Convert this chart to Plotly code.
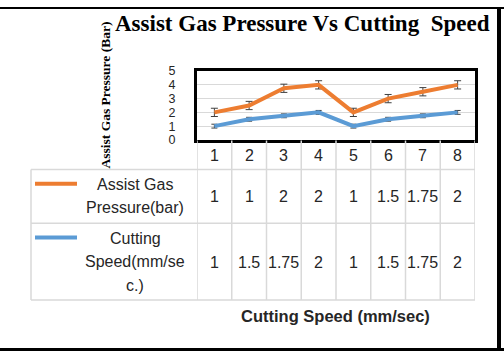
import plotly.graph_objects as go

# ---- data ----
categories = [1, 2, 3, 4, 5, 6, 7, 8]
assist_gas_pressure = [1, 1, 2, 2, 1, 1.5, 1.75, 2]
cutting_speed = [1, 1.5, 1.75, 2, 1, 1.5, 1.75, 2]
y_ticks = [0, 1, 2, 3, 4, 5]
orange_err = 0.3   # standard-error bars
blue_err = 0.14

series_names = ["Assist Gas Pressure(bar)", "Cutting Speed(mm/sec.)"]
title_text = "Assist Gas Pressure Vs Cutting\u00a0 Speed"
y_title = "Assist Gas Pressure (Bar)"
x_title = "Cutting Speed (mm/sec)"

ORANGE = "#ED7D31"
BLUE = "#5B9BD5"
GRID = "#d9d9d9"
TXT = "#262626"

W, H = 504, 358


def px(x):
    return x / W


def py(y):
    return 1 - y / H


def fmt(v):
    return f"{v:g}"


# stacked line chart: orange sits on top of blue
stacked_top = [a + c for a, c in zip(assist_gas_pressure, cutting_speed)]

fig = go.Figure()
fig.add_trace(go.Scatter(
    x=categories, y=cutting_speed, mode="lines", name=series_names[1],
    line=dict(color=BLUE, width=4),
    error_y=dict(type="constant", value=blue_err, color="#404040", thickness=1, width=3),
))
fig.add_trace(go.Scatter(
    x=categories, y=stacked_top, mode="lines", name=series_names[0],
    line=dict(color=ORANGE, width=4),
    error_y=dict(type="constant", value=orange_err, color="#404040", thickness=1, width=3.5),
))

shapes = []
# table horizontal lines
for yy in [169, 225, 305]:
    shapes.append(dict(type="line", xref="paper", yref="paper",
                       x0=px(31), x1=px(475), y0=py(yy), y1=py(yy),
                       line=dict(color=GRID, width=1.5)))
# table left border
shapes.append(dict(type="line", xref="paper", yref="paper",
                   x0=px(31), x1=px(31), y0=py(169), y1=py(305),
                   line=dict(color=GRID, width=1.5)))
# column boundaries aligned to categories
for b in [c - 0.5 for c in categories] + [categories[-1] + 0.5]:
    shapes.append(dict(type="line", xref="x", yref="paper",
                       x0=b, x1=b, y0=py(139), y1=py(305),
                       line=dict(color=GRID, width=1.5)))
# legend keys
for color, yy in [(ORANGE, 184), (BLUE, 240)]:
    shapes.append(dict(type="line", xref="paper", yref="paper",
                       x0=px(35), x1=px(77), y0=py(yy), y1=py(yy),
                       line=dict(color=color, width=4)))
# outer black frame (top, right, bottom)
for (x0, x1, y0, y1) in [(0, 504, 0, 2), (497, 501, 0, 358), (0, 504, 355, 358)]:
    shapes.append(dict(type="rect", xref="paper", yref="paper",
                       x0=px(x0), x1=px(x1), y0=py(y0), y1=py(y1),
                       fillcolor="black", line=dict(width=0), layer="above"))

annotations = []
cell_font = dict(family="Liberation Sans, Arial, sans-serif", size=16, color=TXT)
for c in categories:
    annotations.append(dict(x=c, y=py(155), xref="x", yref="paper", text=str(c),
                            showarrow=False, font=cell_font, xanchor="center", yanchor="middle"))
for c, v in zip(categories, assist_gas_pressure):
    annotations.append(dict(x=c, y=py(197), xref="x", yref="paper", text=fmt(v),
                            showarrow=False, font=cell_font, xanchor="center", yanchor="middle"))
for c, v in zip(categories, cutting_speed):
    annotations.append(dict(x=c, y=py(266), xref="x", yref="paper", text=fmt(v),
                            showarrow=False, font=cell_font, xanchor="center", yanchor="middle"))

legend_lines = [("Assist Gas", 185), ("Pressure(bar)", 209),
                ("Cutting", 241), ("Speed(mm/se", 265), ("c.)", 290)]
for t, yy in legend_lines:
    annotations.append(dict(x=px(135), y=py(yy), xref="paper", yref="paper", text=t,
                            showarrow=False, font=cell_font, xanchor="center", yanchor="middle"))

# chart title
annotations.append(dict(x=px(302), y=py(17), xref="paper", yref="paper", text=title_text,
                        showarrow=False, xanchor="center", yanchor="middle",
                        font=dict(family="Liberation Serif, Times New Roman, serif", size=23,
                                  color="black", weight="bold")))
# y axis title
annotations.append(dict(x=px(105), y=py(92), xref="paper", yref="paper", text=y_title,
                        showarrow=False, textangle=-90, xanchor="center", yanchor="middle",
                        font=dict(family="Liberation Serif, Times New Roman, serif", size=13.5,
                                  color="black", weight="bold")))
# x axis title
annotations.append(dict(x=px(335), y=py(322), xref="paper", yref="paper", text=x_title,
                        showarrow=False, xanchor="center", yanchor="middle",
                        font=dict(family="Liberation Sans, Arial, sans-serif", size=16.5,
                                  color=TXT, weight="bold")))

fig.update_layout(
    width=W, height=H, margin=dict(l=0, r=0, t=0, b=0),
    paper_bgcolor="white", plot_bgcolor="white", showlegend=False,
    shapes=shapes, annotations=annotations,
    xaxis=dict(domain=[px(197), px(475)], range=[0.5, 8.5], showgrid=False,
               zeroline=False, showticklabels=False, ticks="",
               showline=True, mirror=True, linecolor="black", linewidth=3),
    yaxis=dict(domain=[py(138.3), py(66.7)], range=[0, 5], tickvals=y_ticks,
               showgrid=True, gridcolor=GRID, gridwidth=1, zeroline=False,
               showline=True, mirror=True, linecolor="black", linewidth=3,
               ticks="outside", ticklen=16, tickcolor="rgba(0,0,0,0)",
               tickfont=dict(family="Liberation Sans, Arial, sans-serif", size=12.5, color=TXT)),
)

fig.write_html("out.html")
